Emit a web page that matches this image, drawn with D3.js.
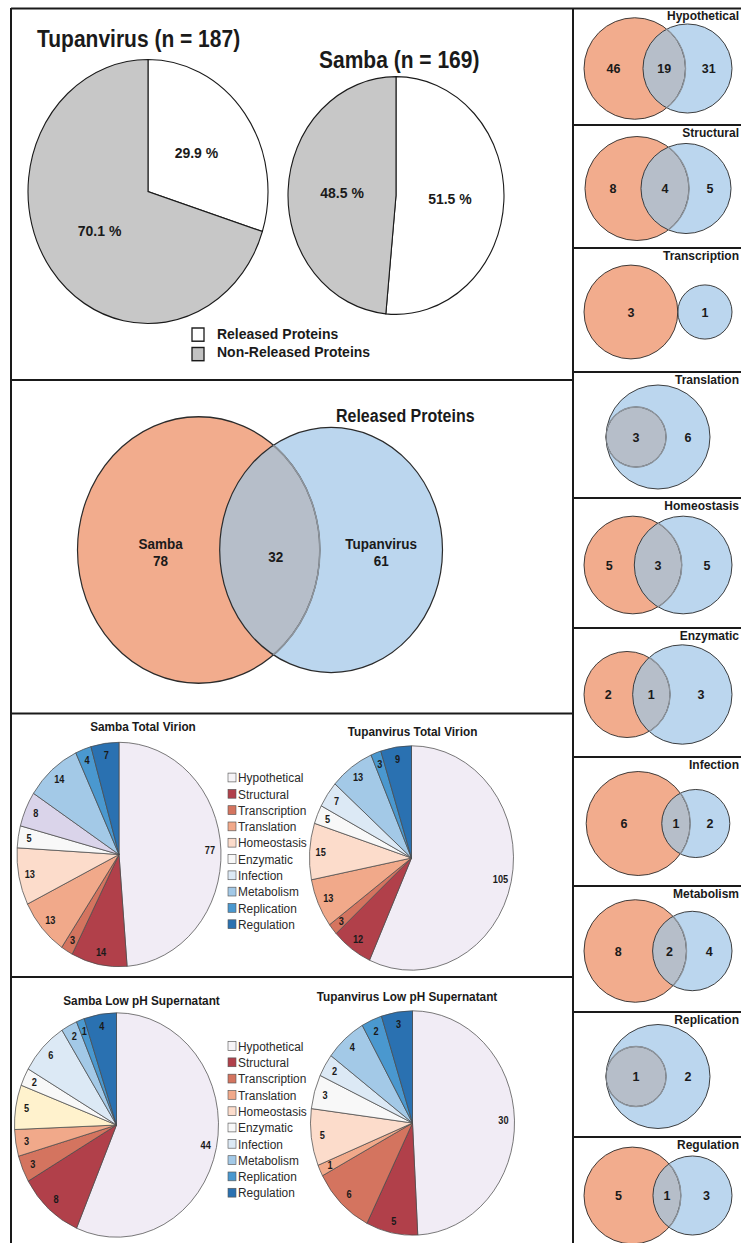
<!DOCTYPE html>
<html><head><meta charset="utf-8">
<script src="https://cdnjs.cloudflare.com/ajax/libs/d3/7.8.5/d3.min.js"></script>
<style>
html,body{margin:0;padding:0;background:#fff;}
svg{display:block;}
text{font-family:"Liberation Sans",Arial,Helvetica,sans-serif;fill:#1a1a1a;}
</style></head><body>
<svg id="chart" width="741" height="1243"></svg>
<script>
// ---------------- data ----------------
const categories = ["Hypothetical","Structural","Transcription","Translation","Homeostasis","Enzymatic","Infection","Metabolism","Replication","Regulation"];
const categoryColors = ["#f1ecf5","#b1404a","#d4745f","#f1a98a","#fcdccb","#f8f8f8","#dce9f5","#a3c9e7","#4a98cf","#2a71b1"];
const legendColors = ["#f6f4f7","#b1404a","#d4745f","#f1a98a","#fcdccb","#f8f8f8","#dce9f5","#a3c9e7","#4a98cf","#2a71b1"];

const releasedLabels = ["Released Proteins", "Non-Released Proteins"];
const releasedColors = ["#ffffff", "#c7c7c7"];
const tupanTotal = 187;
const sambaTotal = 169;
const tupanReleasedPct = [29.9, 70.1];
const sambaReleasedPct = [51.5, 48.5];

const releasedVennNames = ["Samba", "Tupanvirus"];
const releasedVennCounts = [78, 32, 61]; // Samba only, shared, Tupanvirus only

const sambaVirion = [77, 14, 3, 13, 13, 5, 8, 14, 4, 7];
const tupanVirion = [105, 12, 3, 13, 15, 5, 7, 13, 3, 9];
const sambaLowPH  = [44, 8, 3, 3, 5, 2, 6, 2, 1, 4];
const tupanLowPH  = [30, 5, 6, 1, 5, 3, 2, 4, 2, 3];

// per-category Venn: Samba only, shared, Tupanvirus only
const vennSambaOnly = [46, 8, 3, 0, 5, 2, 6, 8, 0, 5];
const vennShared    = [19, 4, 0, 3, 3, 1, 1, 2, 1, 1];
const vennTupanOnly = [31, 5, 1, 6, 5, 3, 2, 4, 2, 3];

// ---------------- styles / layout ----------------
const K = 1.1;                 // vertical stretch of the left block
const sy = y => y / K;
const ORANGE = "#f2ac8d", BLUE = "#bbd6ee", OVERLAP = "#b6bec9", STROKE = "#2b2b2b";

const svg = d3.select("#chart");
svg.append("rect").attr("width", 741).attr("height", 1243).attr("fill", "#ffffff");
const left = svg.append("g").attr("transform", `scale(1,${K})`);
const right = svg.append("g");

// ---------------- helpers ----------------
function lensArea(r1, r2, d) {
  if (d >= r1 + r2) return 0;
  if (d <= Math.abs(r1 - r2)) return Math.PI * Math.min(r1, r2) ** 2;
  const a = r1 * r1 * Math.acos((d * d + r1 * r1 - r2 * r2) / (2 * d * r1));
  const b = r2 * r2 * Math.acos((d * d + r2 * r2 - r1 * r1) / (2 * d * r2));
  const c = 0.5 * Math.sqrt((-d + r1 + r2) * (d + r1 - r2) * (d - r1 + r2) * (d + r1 + r2));
  return a + b - c;
}
function solveDistance(r1, r2, area) {
  if (area <= 0) return r1 + r2;
  if (area >= Math.PI * Math.min(r1, r2) ** 2 - 1e-9) return Math.abs(r1 - r2);
  let lo = Math.abs(r1 - r2), hi = r1 + r2;
  for (let i = 0; i < 80; i++) {
    const m = (lo + hi) / 2;
    if (lensArea(r1, r2, m) > area) lo = m; else hi = m;
  }
  return (lo + hi) / 2;
}
// area-proportional two-set geometry, fitted to a max radius and a max width
function vennGeometry(aOnly, shared, bOnly, Rmax, maxWidth, centerX) {
  const tA = aOnly + shared, tB = bOnly + shared, tMax = Math.max(tA, tB);
  const unit = d3.scaleSqrt().domain([0, tMax]).range([0, 1]);
  const r1u = unit(tA), r2u = unit(tB);
  const du = solveDistance(r1u, r2u, shared * Math.PI / tMax);
  const leftU = Math.min(-r1u, du - r2u), rightU = Math.max(r1u, du + r2u);
  const R = Math.min(Rmax, maxWidth / (rightU - leftU));
  const shift = centerX - R * (leftU + rightU) / 2;
  const g = { x1: shift, x2: shift + R * du, r1: R * r1u, r2: R * r2u, d: R * du };
  g.disjoint = g.d >= g.r1 + g.r2 - 1e-6;
  g.subset = g.d <= Math.abs(g.r1 - g.r2) + 1e-6;
  // label anchors
  g.aX = g.disjoint ? g.x1 : (g.x1 - g.r1 + g.x2 - g.r2) / 2;
  g.bX = g.disjoint ? g.x2 : (g.x1 + g.r1 + g.x2 + g.r2) / 2;
  g.sX = g.subset ? (g.r1 < g.r2 ? g.x1 : g.x2) : (g.x2 - g.r2 + g.x1 + g.r1) / 2;
  return g;
}
let clipId = 0;
function drawVennShapes(parent, g, cy, sw) {
  const id = "vclip" + (clipId++);
  parent.append("clipPath").attr("id", id)
    .append("circle").attr("cx", g.x2).attr("cy", cy).attr("r", g.r2);
  if (g.r1 > 0) parent.append("circle").attr("cx", g.x1).attr("cy", cy).attr("r", g.r1).attr("fill", ORANGE);
  parent.append("circle").attr("cx", g.x2).attr("cy", cy).attr("r", g.r2).attr("fill", BLUE);
  parent.append("circle").attr("cx", g.x1).attr("cy", cy).attr("r", g.r1)
    .attr("fill", OVERLAP).attr("clip-path", `url(#${id})`);
  parent.append("circle").attr("cx", g.x1).attr("cy", cy).attr("r", g.r1)
    .attr("fill", "none").attr("stroke", STROKE).attr("stroke-width", sw);
  parent.append("circle").attr("cx", g.x2).attr("cy", cy).attr("r", g.r2)
    .attr("fill", "none").attr("stroke", STROKE).attr("stroke-width", sw);
  parent.append("circle").attr("cx", g.x1).attr("cy", cy).attr("r", g.r1)
    .attr("fill", "none").attr("stroke", "#8d949c").attr("stroke-width", sw + 0.4)
    .attr("clip-path", `url(#${id})`);
}

// ---------------- panel 1: released / non-released pies ----------------
function releasedPie(values, cx, cy, r, title, tx, ty) {
  left.append("text").attr("x", tx).attr("y", sy(ty))
    .attr("font-size", 21).attr("font-weight", "bold").text(title);
  const g = left.append("g").attr("transform", `translate(${cx},${sy(cy)})`);
  const arcs = d3.pie().sort(null)(values);
  const arc = d3.arc().innerRadius(0).outerRadius(r);
  g.selectAll("path").data(arcs).join("path")
    .attr("d", arc).attr("fill", (d, i) => releasedColors[i])
    .attr("stroke", "#1a1a1a").attr("stroke-width", 1.1);
  g.selectAll("text").data(arcs).join("text")
    .attr("transform", d => `translate(${arc.centroid(d)})`)
    .attr("text-anchor", "middle").attr("dy", "0.35em")
    .attr("font-size", 14).attr("font-weight", "bold")
    .text(d => d.data.toFixed(1) + " %");
}
releasedPie(tupanReleasedPct, 148, 191.5, 120, `Tupanvirus (n = ${tupanTotal})`, 37, 47);
releasedPie(sambaReleasedPct, 396, 195.5, 108, `Samba (n = ${sambaTotal})`, 319, 68);

const relLeg = left.append("g");
releasedLabels.forEach((lab, i) => {
  relLeg.append("rect").attr("x", 192).attr("y", sy(328 + i * 19.5)).attr("width", 12).attr("height", 12)
    .attr("fill", releasedColors[i] === "#ffffff" ? "#ffffff" : "#c2c2c2")
    .attr("stroke", "#1a1a1a").attr("stroke-width", 1.3);
  relLeg.append("text").attr("x", 217).attr("y", sy(339 + i * 18.5))
    .attr("font-size", 14).attr("font-weight", "bold").text(lab);
});

// ---------------- panel 2: released-protein Venn ----------------
{
  const cy = sy(550);
  const g = vennGeometry(releasedVennCounts[0], releasedVennCounts[1], releasedVennCounts[2], 138, 365, 260);
  const grp = left.append("g");
  drawVennShapes(grp, g, cy, 1.2);
  left.append("text").attr("x", 336).attr("y", sy(422))
    .attr("font-size", 16).attr("font-weight", "bold").text("Released Proteins");
  const lab = (x, lines, y0) => {
    const t = left.append("text").attr("text-anchor", "middle").attr("font-size", 13.5).attr("font-weight", "bold");
    lines.forEach((s, i) => t.append("tspan").attr("x", x).attr("y", sy(y0 + i * 17)).text(s));
  };
  lab(g.aX + 12, [releasedVennNames[0], String(releasedVennCounts[0])], 549);
  lab(g.sX + 6, [String(releasedVennCounts[1])], 562);
  lab(g.bX, [releasedVennNames[1], String(releasedVennCounts[2])], 549);
}

// ---------------- panels 3 & 4: category pies ----------------
function categoryPie(values, cx, cy, title, tx, ty, overrides) {
  const r = 102;
  left.append("text").attr("x", tx).attr("y", sy(ty)).attr("text-anchor", "middle")
    .attr("font-size", 11.8).attr("font-weight", "bold").text(title);
  const g = left.append("g").attr("transform", `translate(${cx},${sy(cy)})`);
  const data = categories.map((c, i) => ({ c, v: values[i], color: overrides[c] || categoryColors[i] }));
  const arcs = d3.pie().sort(null).value(d => d.v)(data);
  const arc = d3.arc().innerRadius(0).outerRadius(r);
  const labArc = d3.arc().innerRadius(91).outerRadius(91);
  g.selectAll("path").data(arcs).join("path")
    .attr("d", arc).attr("fill", d => d.data.color)
    .attr("stroke", "#4a4a4a").attr("stroke-width", 0.7);
  g.selectAll("text").data(arcs).join("text")
    .attr("transform", d => `translate(${labArc.centroid(d)})`)
    .attr("text-anchor", "middle").attr("dy", "0.35em")
    .attr("font-size", 9.2).attr("font-weight", "bold").text(d => d.data.v);
}
function categoryLegend(x, y0) {
  const gap = 16.3;
  categories.forEach((c, i) => {
    left.append("rect").attr("x", x).attr("y", sy(y0 + i * gap) - 4).attr("width", 8).attr("height", 8)
      .attr("fill", legendColors[i]).attr("stroke", "#555").attr("stroke-width", 0.6);
    left.append("text").attr("x", x + 10).attr("y", sy(y0 + i * gap)).attr("dy", "0.36em")
      .attr("font-size", 11.9).style("fill", "#2a2a2a").text(c);
  });
}
categoryPie(sambaVirion, 119, 854.5, "Samba Total Virion", 143, 731, { Infection: "#dad4ea" });
categoryPie(tupanVirion, 411.5, 858, "Tupanvirus Total Virion", 412.5, 736, {});
categoryLegend(228, 777.5);
categoryPie(sambaLowPH, 116.5, 1125, "Samba Low pH Supernatant", 141.5, 1005, { Homeostasis: "#fff2cd" });
categoryPie(tupanLowPH, 412.5, 1123, "Tupanvirus Low pH Supernatant", 407, 1001, {});
categoryLegend(228, 1046);

// ---------------- right column: per-category Venns ----------------
const rightTops = [8, 125, 248, 372, 498, 628, 757, 886, 1012, 1137, 1250];
categories.forEach((c, i) => {
  const top = rightTops[i], bottom = rightTops[i + 1];
  const cy = (top + bottom) / 2 + 2;
  const g = vennGeometry(vennSambaOnly[i], vennShared[i], vennTupanOnly[i], 52, 148, 658);
  const grp = right.append("g");
  drawVennShapes(grp, g, cy, 0.9);
  right.append("text").attr("x", 739).attr("y", top + 12).attr("text-anchor", "end")
    .attr("font-size", 12).attr("font-weight", "bold").text(c);
  const lab = (x, v) => right.append("text").attr("x", x).attr("y", cy).attr("dy", "0.36em")
    .attr("text-anchor", "middle").attr("font-size", 12.5).attr("font-weight", "bold").text(v);
  if (vennSambaOnly[i] > 0) lab(g.aX, vennSambaOnly[i]);
  if (vennShared[i] > 0) lab(g.sX, vennShared[i]);
  if (vennTupanOnly[i] > 0) lab(g.bX, vennTupanOnly[i]);
});

// ---------------- frames ----------------
const frame = svg.append("g").attr("stroke", "#1a1a1a").attr("stroke-width", 2).attr("fill", "none");
frame.append("line").attr("x1", 11).attr("x2", 741).attr("y1", 8.5).attr("y2", 8.5);
frame.append("line").attr("x1", 11).attr("x2", 11).attr("y1", 8).attr("y2", 1243);
frame.append("line").attr("x1", 573).attr("x2", 573).attr("y1", 8).attr("y2", 1243);
[380, 713.5, 977].forEach(y => frame.append("line").attr("x1", 11).attr("x2", 573).attr("y1", y).attr("y2", y));
rightTops.slice(1, 10).forEach(y => frame.append("line").attr("x1", 573).attr("x2", 741).attr("y1", y).attr("y2", y));
</script>
</body></html>
